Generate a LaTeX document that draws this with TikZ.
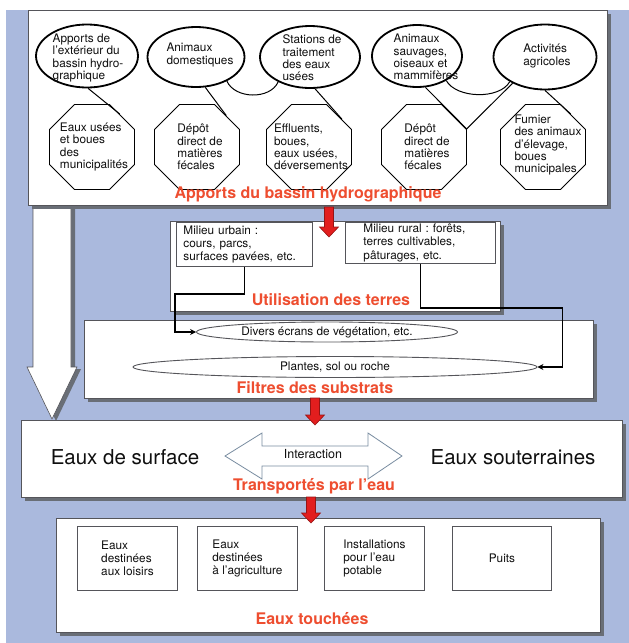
\documentclass[tikz,border=0pt]{standalone}
\usepackage{fontspec}
\setmainfont{TeX Gyre Heros}
\frenchspacing
\usetikzlibrary{shapes.geometric,shadows,calc,arrows.meta}
\definecolor{bgblue}{RGB}{170,185,221}
\definecolor{shadowgray}{RGB}{105,110,118}
\definecolor{titlered}{RGB}{238,78,48}
\definecolor{boxline}{RGB}{85,85,90}
\definecolor{arrred}{RGB}{226,30,30}
\definecolor{arrline}{RGB}{150,20,20}
\definecolor{interline}{RGB}{120,140,160}
\definecolor{txt}{RGB}{15,15,15}
\newcommand\smtxt{\fontsize{11.8}{12.4}\selectfont}
\newcommand\boxtxt{\fontsize{11.8}{13.2}\selectfont}
\newcommand\ttlfont{\fontsize{16}{18}\selectfont\bfseries}
\newcommand\bigtxt{\fontsize{20.5}{23}\selectfont}
\begin{document}
\begin{tikzpicture}[x=1pt,y=-1pt,
  ell/.style={ellipse, draw=black, line width=1.8pt, fill=white, inner sep=0pt},
  oct/.style={regular polygon, regular polygon sides=8, draw=black, line width=0.9pt, fill=white, minimum size=92pt, inner sep=0pt},
  lbl/.style={align=left, font=\smtxt, text=txt, inner sep=0pt},
  mainbox/.style={draw=boxline, line width=0.7pt, fill=white, inner sep=0pt, anchor=north west,
     drop shadow={shadow xshift=4pt, shadow yshift=-4pt, fill=shadowgray, opacity=1}},
  ttl/.style={font=\ttlfont, text=titlered, inner sep=0pt},
  link/.style={draw=black, line width=1pt},
  elbow/.style={draw=black, line width=1.6pt, -{Stealth[length=6pt,width=6pt]}},
  inbox/.style={draw=boxline, line width=0.9pt, fill=white, align=left, font=\boxtxt, text=txt, anchor=north west},
  flt/.style={ellipse, draw=boxline, line width=0.9pt, fill=white, inner sep=0pt, font=\smtxt, text=txt},
  redarr/.style={fill=arrred, draw=arrline, line width=0.6pt},
  bigarr/.style={fill=white, draw=boxline, line width=0.6pt,
     drop shadow={shadow xshift=4pt, shadow yshift=-2pt, fill=shadowgray, opacity=1}},
  interarr/.style={fill=white, draw=interline, line width=0.8pt}
]
\useasboundingbox (0,0) rectangle (629,643);
\fill[white] (0,0) rectangle (629,643);
\fill[bgblue] (6,10) rectangle (629,643);

% big white arrow on the left
\draw[bigarr] (33,200) -- (33,367) -- (27,367) -- (52,419) -- (77,367) -- (71,367) -- (71,200) -- cycle;

% main boxes
\node[mainbox, minimum width=579pt, minimum height=195pt] (top) at (28,10) {};
\node[mainbox, minimum width=330pt, minimum height=90pt] (util) at (170,221) {};
\node[mainbox, minimum width=509pt, minimum height=78pt] (filt) at (84,320) {};
\node[mainbox, minimum width=601pt, minimum height=77pt] (trans) at (21,420) {};
\node[mainbox, minimum width=544pt, minimum height=114pt] (touch) at (56,518) {};

% ellipses (sources)
\node[ell, minimum width=102pt, minimum height=63pt] (e1) at (87,56) {};
\node[ell, minimum width=97pt, minimum height=60pt] (e2) at (196,57) {};
\node[ell, minimum width=100pt, minimum height=62pt] (e3) at (310,57) {};
\node[ell, minimum width=90pt, minimum height=62pt] (e4) at (417,56) {};
\node[ell, minimum width=103pt, minimum height=65pt] (e5) at (545,57) {};
\node[lbl] (t1) at (88,58) {Apports de\\l'extérieur du\\bassin hydro-\\graphique};
\node[lbl] (t2) at (200,55) {Animaux\\domestiques};
\node[lbl] (t3) at (312,58) {Stations de\\traitement\\des eaux\\usées};
\node[lbl] (t4) at (426,57) {Animaux\\sauvages,\\oiseaux et\\mammifères};
\node[lbl] (t5) at (547,56) {Activités\\agricoles};

% octagons
\node[oct] (o1) at (92,147) {};
\node[oct] (o2) at (197,147) {};
\node[oct] (o3) at (309,147) {};
\node[oct] (o4) at (424,147) {};
\node[oct] (o5) at (543,147) {};
\node[lbl] (u1) at (94,147) {Eaux usées\\et boues\\des\\municipalités};
\node[lbl] (u2) at (200,147) {Dépôt\\direct de\\matières\\fécales};
\node[lbl] (u3) at (311,147) {Effluents,\\boues,\\eaux usées,\\déversements};
\node[lbl] (u4) at (427,147) {Dépôt\\direct de\\matières\\fécales};
\node[lbl] (u5) at (548,145) {Fumier\\des animaux\\d'élevage,\\boues\\municipales};

% links
\draw[link] (e1.272) -- (o1.50);
\draw[link] (e2.287) -- (o2.47);
\draw[link] (e3.279) -- (o3.40);
\draw[link] (e4.285) -- (o4.23);
\draw[link] (e5.219) -- (o4.23);
\draw[link] (e5.270) -- (o5.50);
\draw[link] (e2.-38) .. controls +(8,18) and +(-8,18) .. (e3.-142);
\draw[link] (e4.-40) .. controls +(10,18) and +(-10,18) .. (e5.-145);

\node[ttl] (ttop) at (308,194) {Apports du bassin hydrographique};

% land use
\node[inbox, minimum height=44pt, text width=122pt, inner xsep=7pt, inner ysep=0pt] (urb) at (176,222) {Milieu urbain :\\cours, parcs,\\surfaces pavées, etc.};
\node[inbox, minimum height=41pt, text width=114pt, inner xsep=18pt, inner ysep=0pt] (rur) at (345,222) {Milieu rural : forêts,\\terres cultivables,\\pâturages, etc.};
\node[ttl] (tutil) at (331,300) {Utilisation des terres};

% substrate filters
\node[flt, minimum width=261pt, minimum height=20pt] (div) at (327,332) {Divers écrans de végétation, etc.};
\node[flt, minimum width=404pt, minimum height=21pt] (pla) at (335,367) {Plantes, sol ou roche};
\node[ttl] (tfilt) at (315,388) {Filtres des substrats};

\draw[elbow] (urb.south) -- ++(0,27) -| ($(div.west)+(-21,0)$) -- (div.west);
\draw[elbow] (rur.south) -- ++(0,44) -| ($(pla.east)+(25,0)$) -- (pla.east);

% transport
\node[font=\bigtxt, text=txt, inner sep=0pt] (surf) at (125,457) {Eaux de surface};
\node[font=\bigtxt, text=txt, inner sep=0pt] (sout) at (513,457) {Eaux souterraines};
\draw[interarr] (225,456) -- (262,433) -- (262,446) -- (368,446) -- (368,433) -- (402,456)
  -- (368,479) -- (368,466) -- (262,466) -- (262,479) -- cycle;
\node[font=\fontsize{12.5}{14}\selectfont, text=txt, inner sep=0pt] (inter) at (313,454) {Interaction};
\node[ttl] (ttrans) at (314,486) {Transportés par l'eau};

% affected waters
\node[inbox, minimum width=100pt, minimum height=64pt] (w1) at (77,526) {Eaux\\destinées\\aux loisirs};
\node[inbox, minimum width=100pt, minimum height=64pt] (w2) at (197,526) {Eaux\\destinées\\à l'agriculture};
\node[inbox, minimum width=100pt, minimum height=64pt] (w3) at (324,526) {Installations\\pour l'eau\\potable};
\node[inbox, minimum width=99pt, minimum height=64pt] (w4) at (452,526) {Puits};
\node[ttl] (ttouch) at (312,619) {Eaux touchées};

% red flow arrows
\draw[redarr] (324.5,207) -- (324.5,227) -- (319.5,227) -- (329,237) -- (338.5,227) -- (333.5,227) -- (333.5,207) -- cycle;
\draw[redarr] (310.5,398) -- (310.5,415) -- (305.5,415) -- (315,425) -- (324.5,415) -- (319.5,415) -- (319.5,398) -- cycle;
\draw[redarr] (306.5,497) -- (306.5,513) -- (301.5,513) -- (311,523) -- (320.5,513) -- (315.5,513) -- (315.5,497) -- cycle;
\end{tikzpicture}
\end{document}
